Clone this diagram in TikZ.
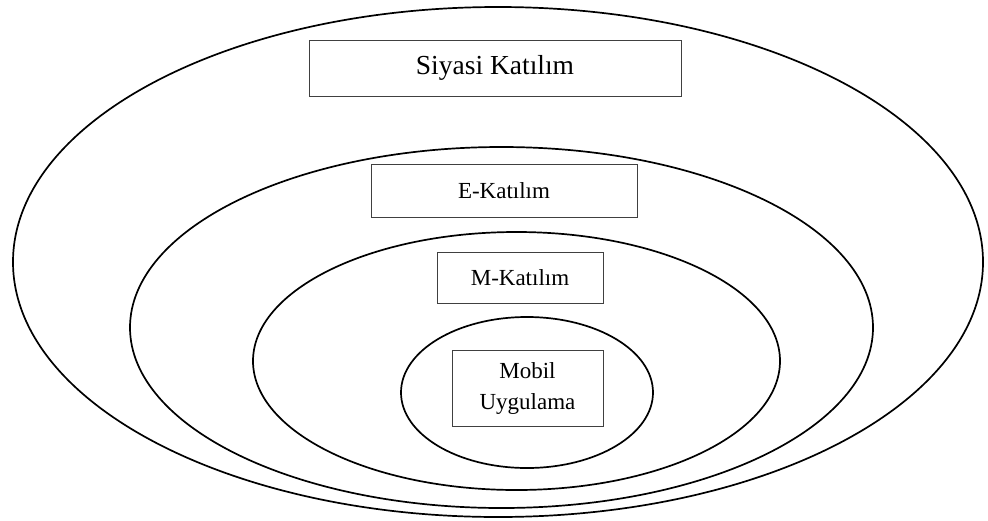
\documentclass[tikz,border=0pt]{standalone}
\usepackage{fontspec}
\setmainfont{Liberation Serif}
\usepackage{tikz}

\begin{document}
\begin{tikzpicture}[x=1pt,y=-1pt]
			\begingroup
			\useasboundingbox (0,0) rectangle (988,520);
			\tikzset{kutu/.style={draw=black!75, line width=0.9pt, fill=white, inner sep=0pt, align=center, font=\fontsize{23}{31}\selectfont}}
			
			\draw[line width=1.7pt] (498, 262) ellipse (485 and 255);
			\draw[line width=1.7pt] (501.5, 327.5) ellipse (371.5 and 180.5);
			\draw[line width=1.7pt] (516.5, 361) ellipse (263.5 and 129);
			\draw[line width=1.7pt] (527, 392.5) ellipse (126 and 75.5);
			
			\node[kutu, minimum width=372, minimum height=56, font=\fontsize{27.5}{31}\selectfont] (siyasi) at (495, 68) {Siyasi Katılım};
			\node[kutu, minimum width=266, minimum height=53] (ekatilim) at (504, 190.5) {E-Katılım};
			\node[kutu, minimum width=166, minimum height=51] (mkatilim) at (520, 278) {M-Katılım};
			\node[kutu, minimum width=151, minimum height=76] (mobil) at (527.5, 388) {Mobil\\Uygulama};
			\endgroup
			\end{tikzpicture}
\end{document}
